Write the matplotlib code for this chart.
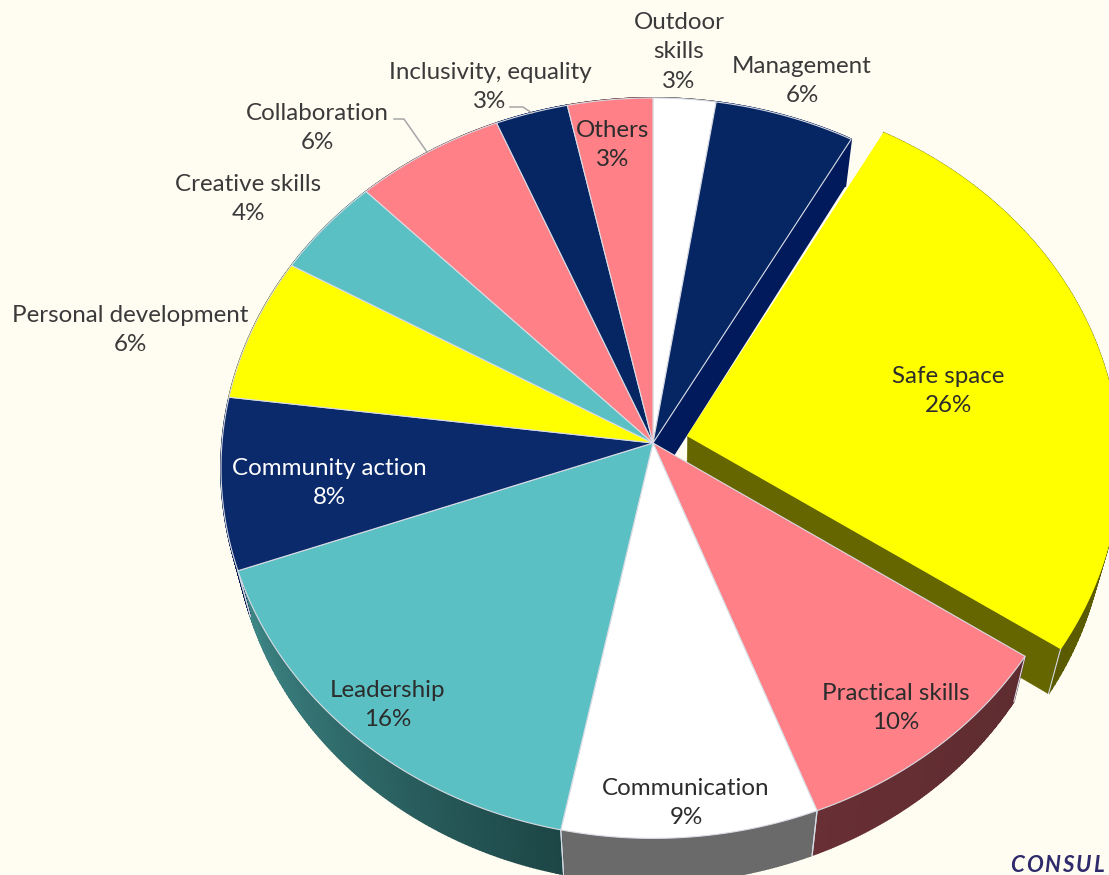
import numpy as np
import matplotlib
matplotlib.use("Agg")
import matplotlib.pyplot as plt
from matplotlib.colors import to_rgb

categories = ["Outdoor\nskills", "Management", "Safe space", "Practical skills", "Communication", "Leadership",
              "Community action", "Personal development", "Creative skills", "Collaboration",
              "Inclusivity, equality", "Others"]
# shares, the printed percentages are rounded
shares = [2.5, 5.6, 26.3, 9.8, 9.0, 16.3, 7.5, 6.3, 4.4, 6.0, 2.9, 3.4]
percent_labels = ["3%", "6%", "26%", "10%", "9%", "16%", "8%", "6%", "4%", "6%", "3%", "3%"]
top_colors = ["#ffffff", "#052663", "#ffff00", "#ff8087", "#ffffff", "#5ac0c3",
              "#0b2a6b", "#ffff00", "#5ac0c3", "#ff8087", "#052663", "#ff8087"]
wall_start = ["#666666", "#001a5c", "#6b6b00", "#5e2c30", "#6a6a6a", "#1d4646",
              "#00184f", "#666600", "#2a6a6c", "#642f33", "#001a5c", "#642f33"]
wall_end = ["#666666", "#001a5c", "#5a5a00", "#682f34", "#6a6a6a", "#3f8888",
            "#00184f", "#666600", "#2a6a6c", "#642f33", "#001a5c", "#642f33"]
label_xy = [(679, 52), (802, 81), (948, 391), (896, 708), (686, 803), (388, 705),
            (329, 483), (130, 330), (248, 199), (317, 128), (490, 87), (613, 145)]
label_colors = ["#3a3a3a", "#3a3a3a", "#2c2c2c", "#2c2c2c", "#2c2c2c", "#2c2c2c",
                "#ffffff", "#3a3a3a", "#3a3a3a", "#3a3a3a", "#3a3a3a", "#2c2c2c"]
leader_lines = [([394, 404, 427], [119, 119, 152]), ([510, 523, 532], [107, 107, 113])]
corner_text = "CONSUL"

apex_x, apex_y = 653, 443
radius_x, radius_y, tilt = 431, 368.5, 0.068
depth, shrink_x, shrink_y = 46, 0.97, 0.996
explode_index = 2
explode = 0.083
edge_color = "#d9dce4"


def project(u, v):
    scale = 1 / (1 + tilt * v)
    return apex_x + radius_x * u * scale, apex_y - radius_y * v * scale


def to_bottom(x, y):
    return apex_x + shrink_x * (x - apex_x), apex_y + depth + shrink_y * (y - apex_y)


def slice_arc(start, end, shift_u=0, shift_v=0):
    angles = np.radians(np.linspace(start, end, 120))
    return project(np.sin(angles) + shift_u, np.cos(angles) + shift_v)


def draw_wall(x, y, start_color, end_color):
    # split the wall in strips so that it can shade along the arc
    bx, by = to_bottom(x, y)
    start = np.array(to_rgb(start_color))
    end = np.array(to_rgb(end_color))
    for i in range(len(x) - 1):
        color = tuple(start + (end - start) * i / (len(x) - 2))
        ax.fill([x[i], x[i + 1], bx[i + 1], bx[i]], [y[i], y[i + 1], by[i + 1], by[i]],
                color=color, lw=1.2, zorder=1)
    # seams only show on the front half
    for k in (0, -1):
        if y[k] > apex_y:
            ax.plot([x[k], bx[k]], [y[k], by[k]], color=edge_color, lw=0.8, zorder=1.5)


fig = plt.figure(figsize=(11.09, 8.75), dpi=100, facecolor="#fffdf2")
ax = fig.add_axes([0, 0, 1, 1])
ax.set_xlim(0, 1109)
ax.set_ylim(875, 0)
ax.axis("off")
plt.rcParams["font.family"] = ["Lato", "DejaVu Sans"]

edges = np.concatenate([[0], np.cumsum(shares)]) * 360 / sum(shares)
mid = np.radians((edges[explode_index] + edges[explode_index + 1]) / 2)
shift_u, shift_v = explode * np.sin(mid), explode * np.cos(mid)

# exploded slice walls go first, everything else paints over them
x, y = slice_arc(edges[explode_index], edges[explode_index + 1], shift_u, shift_v)
ex, ey = project(shift_u, shift_v)
bx, by = to_bottom(np.array([ex, x[-1]]), np.array([ey, y[-1]]))
ax.fill([ex, x[-1], bx[1], bx[0]], [ey, y[-1], by[1], by[0]], color="#666600", lw=0.4, zorder=1)
draw_wall(x, y, wall_start[explode_index], wall_end[explode_index])

for i in range(len(shares)):
    if i == explode_index:
        continue
    x, y = slice_arc(edges[i], edges[i + 1])
    draw_wall(x, y, wall_start[i], wall_end[i])

# cut face of the slice next to the exploded one
x, y = slice_arc(edges[1], edges[2])
bx, by = to_bottom(np.array([float(apex_x), x[-1]]), np.array([float(apex_y), y[-1]]))
ax.fill([apex_x, x[-1], bx[1], bx[0]], [apex_y, y[-1], by[1], by[0]], color="#001a5c", lw=0, zorder=1.6)

for i in range(len(shares)):
    exploded = i == explode_index
    shift = (shift_u, shift_v) if exploded else (0, 0)
    x, y = slice_arc(edges[i], edges[i + 1], *shift)
    ox, oy = project(*shift)
    ax.fill(np.r_[ox, x], np.r_[oy, y], facecolor=top_colors[i], edgecolor=top_colors[i] if exploded else edge_color,
            lw=0.8, zorder=4 if exploded else 3)

for i, name in enumerate(categories):
    ax.text(label_xy[i][0], label_xy[i][1], name + "\n" + percent_labels[i], ha="center", va="center",
            ma="center", fontsize=17.4, color=label_colors[i], linespacing=1.48, zorder=6)

for line_x, line_y in leader_lines:
    ax.plot(line_x, line_y, color="#a6a6a6", lw=1.1, zorder=5)

# letter spaced, matplotlib has no tracking option so place the letters one by one
renderer = fig.canvas.get_renderer()
letter_x = 1010
for letter in corner_text:
    t = ax.text(letter_x, 865, letter, ha="left", va="center", fontsize=16, fontweight="bold", fontstyle="italic",
                color="#2e2a6b", zorder=6)
    letter_x += t.get_window_extent(renderer).width + 2

fig.savefig("out.png", dpi=100, facecolor=fig.get_facecolor())
